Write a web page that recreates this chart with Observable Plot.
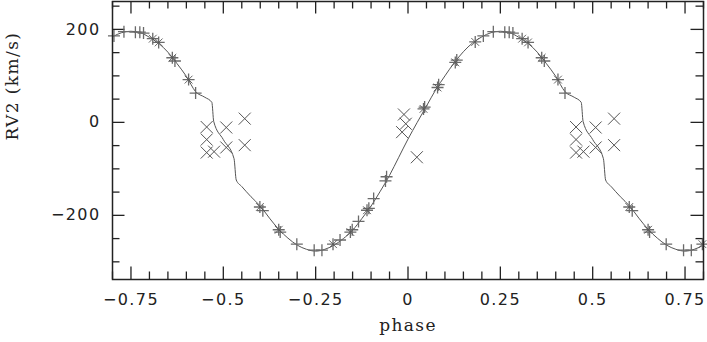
<!DOCTYPE html>
<html>
<head>
<meta charset="utf-8">
<script src="https://cdn.jsdelivr.net/npm/d3@7"></script>
<script src="https://cdn.jsdelivr.net/npm/@observablehq/plot@0.6"></script>
<style>
  html, body { margin: 0; padding: 0; background: #fff; }
  #chart svg text { letter-spacing: 1.4px; }
</style>
</head>
<body>
<div id="chart"></div>
<script>
// ---- data (one orbital cycle) ----
const plusPhase = [-0.401, -0.393, -0.350, -0.346, -0.301, -0.254, -0.233, -0.203, -0.184, -0.156, -0.151, -0.134, -0.111, -0.106, -0.093, -0.061, -0.058, 0.042, 0.045, 0.080, 0.083, 0.128, 0.132, 0.182, 0.204, 0.231, 0.262, 0.274, 0.284, 0.309, 0.325, 0.362, 0.369, 0.406, 0.425];
const plusRV    = [-182, -190, -231, -236, -262, -275, -275, -262, -253, -236, -231, -213, -189, -185, -164, -126, -117, 29, 33, 75, 81, 129, 134, 173, 186, 195, 194, 194, 192, 180, 172, 139, 132, 92, 63];

const crossPhase = [-0.401, -0.350, -0.203, -0.156, -0.111, 0.042, 0.080, 0.128, 0.182, 0.309, 0.325, 0.362, 0.406];
const crossRV    = [-182, -231, -262, -236, -189, 29, 75, 129, 173, 180, 172, 139, 92];

const eclPhase = [0.455, 0.455, 0.455, 0.475, 0.508, 0.508, 0.558, 0.558, -0.011, -0.006, -0.016, 0.024];
const eclRV    = [-10, -37, -65, -63, -11, -54, 8, -49, 17, -3, -21, -75];

const modelPhase = [-0.5, -0.471, -0.465, -0.45, -0.425, -0.4, -0.375, -0.35, -0.325, -0.3, -0.275, -0.25, -0.225, -0.2, -0.175, -0.15, -0.125, -0.1, -0.075, -0.05, -0.025, 0, 0.025, 0.05, 0.075, 0.1, 0.125, 0.15, 0.175, 0.2, 0.225, 0.25, 0.275, 0.3, 0.325, 0.35, 0.375, 0.4, 0.425, 0.45, 0.469, 0.474];
const modelRV    = [-37, -78, -124, -138, -160, -180, -206, -230, -249, -264, -273, -277, -273, -264, -250, -232, -207, -180, -148, -114, -75, -36, 0, 35, 70, 100, 128, 152, 171, 184, 193, 196, 193, 183, 170, 151, 126, 99, 66, 54, 43, 2];

const xLabelTicks = [-0.75, -0.5, -0.25, 0, 0.25, 0.5, 0.75];
const yLabelTicks = [-200, 0, 200];
const xMinorTicks = [-0.8, -0.7, -0.65, -0.6, -0.55, -0.45, -0.4, -0.35, -0.3, -0.2, -0.15, -0.1, -0.05, 0.05, 0.1, 0.15, 0.2, 0.3, 0.35, 0.4, 0.45, 0.55, 0.6, 0.65, 0.7, 0.8];
const yMinorTicks = [-300, -250, -150, -100, -50, 50, 100, 150, 250];

// ---- build phase-folded tables (each cycle shown again at phase ± 1) ----
const X0 = -0.8, X1 = 0.8;
function fold(ph, rv, lo, hi) {
  const out = [];
  ph.forEach((p, i) => {
    for (const s of [-1, 0, 1]) {
      const q = p + s;
      if (q >= lo && q <= hi) out.push({phase: q, rv: rv[i]});
    }
  });
  return out.sort((a, b) => a.phase - b.phase);
}
const plusData = fold(plusPhase, plusRV, X0, X1);
const crossData = fold(crossPhase, crossRV, X0, X1);
const eclData = fold(eclPhase, eclRV, X0, X1);
const modelData = fold(modelPhase, modelRV, -0.95, 0.95);

// stroke-only marker symbols
const plusSym = {draw(ctx, size) { const r = Math.sqrt(size / Math.PI); ctx.moveTo(-r, 0); ctx.lineTo(r, 0); ctx.moveTo(0, -r); ctx.lineTo(0, r); }};
const timesSym = {draw(ctx, size) { const r = Math.sqrt(size / Math.PI) * 0.7071; ctx.moveTo(-r, -r); ctx.lineTo(r, r); ctx.moveTo(-r, r); ctx.lineTo(r, -r); }};

const W = 707, H = 342, mL = 112, mR = 4, mT = 1, mB = 63;
const fw = W - mL - mR, fh = H - mT - mB;
const tickColor = "#222";
const sans = "DejaVu Sans";
const serif = "DejaVu Serif";

const chart = Plot.plot({
  width: W, height: H,
  marginLeft: mL, marginRight: mR, marginTop: mT, marginBottom: mB,
  style: {background: "#fff", color: "#222"},
  x: {domain: [X0, X1]},
  y: {domain: [-338, 260]},
  marks: [
    // major & minor ticks pointing inward on all four sides
    Plot.ruleX(xLabelTicks, {insetTop: fh - 12.5, stroke: tickColor, strokeWidth: 1.3}),
    Plot.ruleX(xLabelTicks, {insetBottom: fh - 12.5, stroke: tickColor, strokeWidth: 1.3}),
    Plot.ruleX(xMinorTicks, {insetTop: fh - 7.5, stroke: tickColor, strokeWidth: 1.3}),
    Plot.ruleX(xMinorTicks, {insetBottom: fh - 7.5, stroke: tickColor, strokeWidth: 1.3}),
    Plot.ruleY(yLabelTicks, {insetRight: fw - 12.5, stroke: tickColor, strokeWidth: 1.3}),
    Plot.ruleY(yLabelTicks, {insetLeft: fw - 12.5, stroke: tickColor, strokeWidth: 1.3}),
    Plot.ruleY(yMinorTicks, {insetRight: fw - 7.5, stroke: tickColor, strokeWidth: 1.3}),
    Plot.ruleY(yMinorTicks, {insetLeft: fw - 7.5, stroke: tickColor, strokeWidth: 1.3}),
    Plot.axisX({ticks: xLabelTicks, tickSize: 0, tickPadding: 14, label: null,
      tickFormat: d => d3.format("")(d).replace("-", "\u2212"),
      fontSize: 16, fontFamily: sans, fill: "#222"}),
    Plot.axisY({ticks: yLabelTicks, tickSize: 0, tickPadding: 12, label: null,
      tickFormat: d => String(d).replace("-", "\u2212"),
      fontSize: 16, fontFamily: sans, fill: "#222"}),
    // model curve
    Plot.line(modelData, {x: "phase", y: "rv", stroke: "#555", strokeWidth: 1, curve: "monotone-x", clip: true}),
    // observations
    Plot.dot(plusData, {x: "phase", y: "rv", symbol: plusSym, r: 6, fill: "none", stroke: "#6a6a6a", strokeWidth: 1.3}),
    Plot.dot(crossData, {x: "phase", y: "rv", symbol: timesSym, r: 5.5, fill: "none", stroke: "#555", strokeWidth: 0.9}),
    Plot.dot(eclData, {x: "phase", y: "rv", symbol: timesSym, r: 8.5, fill: "none", stroke: "#555", strokeWidth: 1}),
    Plot.frame({stroke: "#222", strokeWidth: 1.5}),
    // axis titles
    Plot.text(["phase"], {frameAnchor: "bottom", dy: 51, text: d => d, fontFamily: serif, fontSize: 17, fill: "#222"}),
    Plot.text(["RV2 (km/s)"], {frameAnchor: "left", dx: -100, rotate: -90, text: d => d, fontFamily: serif, fontSize: 17, fill: "#222"})
  ]
});
document.getElementById("chart").appendChild(chart);
</script>
</body>
</html>
